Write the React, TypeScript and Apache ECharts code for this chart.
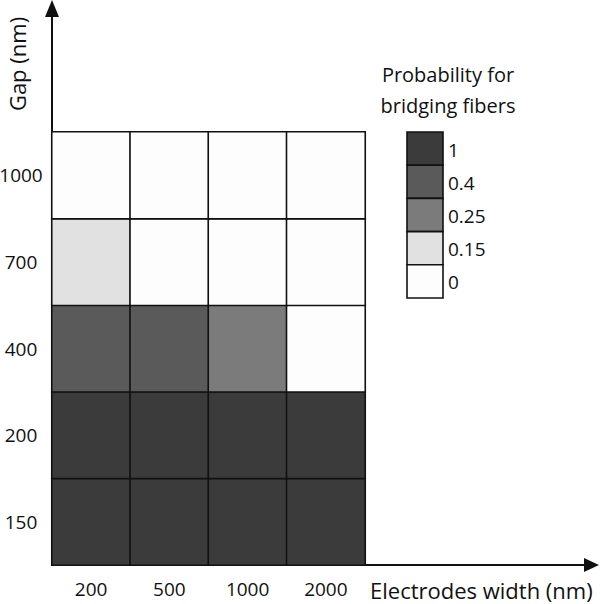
import React, { useEffect, useRef } from "react";
import * as echarts from "echarts";

const widthCategories = ["200", "500", "1000", "2000"];
const gapCategories = ["150", "200", "400", "700", "1000"];
// probability per gap row, in widthCategories order
const gap150 = [1, 1, 1, 1];
const gap200 = [1, 1, 1, 1];
const gap400 = [0.4, 0.4, 0.25, 0];
const gap700 = [0.15, 0, 0, 0];
const gap1000 = [0, 0, 0, 0];
const legendLevels = [1, 0.4, 0.25, 0.15, 0];
const legendLabels = ["1", "0.4", "0.25", "0.15", "0"];
const levelColors = ["#3b3b3b", "#5a5a5a", "#7b7b7b", "#e1e1e1", "#fdfdfd"];
const legendTitle = ["Probability for", "bridging fibers"];
const xName = "Electrodes width (nm)";
const yName = "Gap (nm)";

const FONT = "'Open Sans', sans-serif";

export default function App() {
  const ref = useRef<HTMLDivElement>(null);
  useEffect(() => {
    document.body.style.margin = "0";
    if (!ref.current) return;
    const chart = echarts.init(ref.current, undefined, { renderer: "svg" });
    const rows = [gap150, gap200, gap400, gap700, gap1000];
    const data: number[][] = [];
    rows.forEach((row, yi) => row.forEach((v, xi) => data.push([xi, yi, v])));

    const gridLeft = 52, gridTop = 132, gridW = 313, gridH = 433;
    const axisY = gridTop + gridH;
    const legX = 407, legTop = 132, legW = 36, legH = 33.2;

    const legendGraphics: any[] = [];
    legendLevels.forEach((lv, i) => {
      legendGraphics.push({
        type: "rect",
        shape: { x: legX, y: legTop + i * legH, width: legW, height: legH },
        style: { fill: levelColors[i], stroke: "#111", lineWidth: 1.6 },
      });
      legendGraphics.push({
        type: "text",
        x: legX + legW + 5,
        y: legTop + i * legH + legH / 2 + 1,
        style: {
          text: legendLabels[i],
          font: `19px ${FONT}`,
          fill: "#111",
          textAlign: "left",
          textVerticalAlign: "middle",
        },
      });
    });
    legendTitle.forEach((t, i) => {
      legendGraphics.push({
        type: "text",
        x: 448,
        y: 74 + i * 31,
        style: {
          text: t,
          font: `20px ${FONT}`,
          fill: "#111",
          textAlign: "center",
          textVerticalAlign: "middle",
        },
      });
    });

    chart.setOption({
      animation: false,
      backgroundColor: "#ffffff",
      grid: {
        left: gridLeft,
        top: gridTop,
        width: gridW,
        height: gridH,
        containLabel: false,
        outerBoundsMode: "none",
      },
      xAxis: {
        type: "category",
        data: widthCategories,
        axisLine: { show: false },
        axisTick: { show: false },
        splitLine: { show: false },
        axisLabel: { fontSize: 19, fontFamily: FONT, color: "#111", margin: 14 },
      },
      yAxis: {
        type: "category",
        data: gapCategories,
        axisLine: { show: false },
        axisTick: { show: false },
        splitLine: { show: false },
        axisLabel: { fontSize: 19, fontFamily: FONT, color: "#111", margin: 31, align: "center" },
      },
      visualMap: {
        type: "piecewise",
        show: false,
        dimension: 2,
        pieces: legendLevels.map((v, i) => ({ value: v, color: levelColors[i] })),
      },
      series: [
        {
          type: "heatmap",
          data,
          itemStyle: { borderColor: "#111", borderWidth: 1.6 },
          emphasis: { disabled: true },
          label: { show: false },
        },
      ],
      graphic: [
        {
          type: "line",
          shape: { x1: gridLeft, y1: axisY, x2: 588, y2: axisY },
          style: { stroke: "#111", lineWidth: 2 },
        },
        {
          type: "polygon",
          shape: { points: [[599, axisY], [584, axisY - 7], [584, axisY + 7]] },
          style: { fill: "#111" },
        },
        {
          type: "line",
          shape: { x1: gridLeft, y1: axisY, x2: gridLeft, y2: 12 },
          style: { stroke: "#111", lineWidth: 2 },
        },
        {
          type: "polygon",
          shape: { points: [[gridLeft, 0], [gridLeft - 7, 17], [gridLeft + 7, 17]] },
          style: { fill: "#111" },
        },
        {
          type: "text",
          x: 370,
          y: 590,
          style: {
            text: xName,
            font: `22px ${FONT}`,
            fill: "#111",
            textAlign: "left",
            textVerticalAlign: "middle",
          },
        },
        {
          type: "text",
          x: 17,
          y: 64,
          rotation: Math.PI / 2,
          style: {
            text: yName,
            font: `22px ${FONT}`,
            fill: "#111",
            textAlign: "center",
            textVerticalAlign: "middle",
          },
        },
        ...legendGraphics,
      ],
    });
    return () => chart.dispose();
  }, []);
  return <div ref={ref} style={{ width: 600, height: 604 }} />;
}
